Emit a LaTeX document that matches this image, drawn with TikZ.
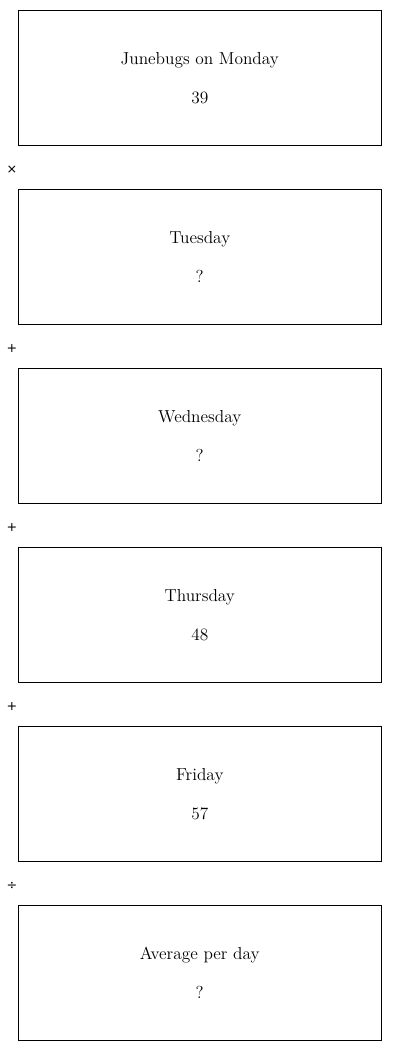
\documentclass[tikz,border=0pt]{standalone}
\usepackage{fontspec}
\usepackage{tikz}
\newfontfamily\opfont{DejaVu Sans}
\tikzstyle{day} = [rectangle, draw = black, line width=0.75pt, minimum width = 272.25pt, minimum height = 101.25pt, inner sep=0pt]
\tikzstyle{daytext} = [anchor=base, inner sep=0pt, font=\fontsize{13}{15}\selectfont]
\tikzstyle{opsign} = [anchor=center, inner sep=0pt, font=\opfont\fontsize{9.5}{11}\selectfont]
\usetikzlibrary{positioning}

\begin{document}
\begin{tikzpicture}[x=0.75pt, y=-0.75pt]
      \useasboundingbox (0,0) rectangle (400,1051);

      \node[day] (mon) at (199.75,77.5) {};
      \node[daytext] (mon title) at (199.75,64.5) {Junebugs on Monday};
      \node[daytext] (mon val) at (199.75,103.5) {39};
      \node[opsign] (times) at (12,170) {×};

      \node[day] (tue) at (199.75,256.5) {};
      \node[daytext] (tue title) at (199.75,243.5) {Tuesday};
      \node[daytext] (tue val) at (199.75,282.5) {?};
      \node[opsign] (plus1) at (12,349) {+};

      \node[day] (wed) at (199.75,435.5) {};
      \node[daytext] (wed title) at (199.75,422.5) {Wednesday};
      \node[daytext] (wed val) at (199.75,461.5) {?};
      \node[opsign] (plus2) at (12,528) {+};

      \node[day] (thu) at (199.75,614.5) {};
      \node[daytext] (thu title) at (199.75,601.5) {Thursday};
      \node[daytext] (thu val) at (199.75,640.5) {48};
      \node[opsign] (plus3) at (12,707) {+};

      \node[day] (fri) at (199.75,793.5) {};
      \node[daytext] (fri title) at (199.75,780.5) {Friday};
      \node[daytext] (fri val) at (199.75,819.5) {57};
      \node[opsign] (divide) at (12,886) {÷};

      \node[day] (avg) at (199.75,972.5) {};
      \node[daytext] (avg title) at (199.75,959.5) {Average per day};
      \node[daytext] (avg val) at (199.75,998.5) {?};
    \end{tikzpicture}
\end{document}
